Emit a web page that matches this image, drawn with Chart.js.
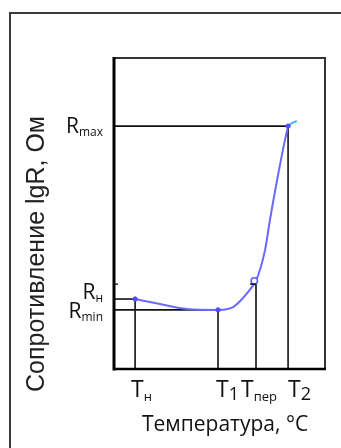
<!DOCTYPE html>
<html>
<head>
<meta charset="utf-8">
<script src="https://cdn.jsdelivr.net/npm/chart.js@4/dist/chart.umd.min.js"></script>
<style>
  html, body { margin: 0; padding: 0; background: #fff; }
  #wrap { position: relative; width: 341px; height: 448px; }
</style>
</head>
<body>
<div id="wrap"><canvas id="c" width="341" height="448"></canvas></div>
<script>
// Temperature (relative units, 0..100) and lgR (relative units, 0..100) along the curve
const curveT = [10, 21.8, 34.6, 49.3, 56.4, 61.1, 65.4, 67.3, 71.6, 73.9, 78.2, 81.0, 82.5];
const curveR = [22.5, 20.9, 19.3, 19.0, 19.9, 22.8, 26.4, 28.3, 38.3, 47.9, 64.0, 73.6, 78.1];
// short tail past T2
const tailT = [82.5, 84.4, 86.7];
const tailR = [78.1, 79.1, 79.7];

// characteristic temperatures and resistances
const tMain = ['T', 'T', 'T', 'T'];
const tSub = ['н', '1', 'пер', '2'];
const tValues = [10, 49.3, 67.3, 82.5];
const rAtT = [22.5, 19.0, 28.3, 78.1];

const rMain = ['R', 'R', 'R'];
const rSub = ['max', 'н', 'min'];
const rValues = [78.1, 22.5, 19.0];

const xTitle = 'Температура, °С';
const yTitle = 'Сопротивление lgR, Ом';

const pts = (xs, ys) => xs.map((x, i) => ({ x, y: ys[i] }));

// guide lines from the axes to the marked points
const guides = [
  [{ x: 0, y: rValues[0] }, { x: tValues[3], y: rValues[0] }],
  [{ x: tValues[3], y: 0 }, { x: tValues[3], y: rAtT[3] }],
  [{ x: 0, y: rValues[2] }, { x: tValues[1], y: rValues[2] }],
  [{ x: tValues[1], y: 0 }, { x: tValues[1], y: rAtT[1] }],
  [{ x: tValues[2], y: 0 }, { x: tValues[2], y: rAtT[2] }],
  [{ x: tValues[0], y: 0 }, { x: tValues[0], y: rAtT[0] }],
  [{ x: 0, y: rValues[1] }, { x: tValues[0], y: rValues[1] }],
];

const datasets = guides.map(g => ({
  type: 'line', data: g, borderColor: '#111', borderWidth: 1.6,
  pointRadius: 0, tension: 0, order: 5
}));
datasets.push({
  type: 'line', data: pts(curveT, curveR), borderColor: '#6a6aff', borderWidth: 2,
  pointRadius: 0, tension: 0.4, cubicInterpolationMode: 'monotone', order: 2
});
datasets.push({
  type: 'line', data: pts(tailT, tailR), borderColor: '#3fb4ee', borderWidth: 2,
  pointRadius: 0, tension: 0.4, order: 1
});
// markers on the curve
datasets.push({
  type: 'scatter', data: pts([tValues[0], tValues[1], tValues[3]], [rAtT[0], rAtT[1], rAtT[3]]),
  backgroundColor: '#5050ff', borderColor: '#5050ff', pointRadius: 2.2, order: 0
});
datasets.push({
  type: 'scatter', data: pts([tValues[2] - 0.8], [rAtT[2]]),
  backgroundColor: '#ffffff', borderColor: '#5a5aff', borderWidth: 1.5, pointRadius: 3.2, order: 0
});

function drawSubLabel(ctx, main, sub, x, y, align, mainFont, subFont, subDy) {
  ctx.font = mainFont;
  const wm = ctx.measureText(main).width;
  ctx.font = subFont;
  const ws = ctx.measureText(sub).width;
  let left = x;
  if (align === 'right') left = x - wm - ws;
  ctx.textAlign = 'left';
  ctx.textBaseline = 'alphabetic';
  ctx.font = mainFont;
  ctx.fillText(main, left, y);
  ctx.font = subFont;
  ctx.fillText(sub, left + wm, y + subDy);
}

const frame = {
  id: 'frame',
  beforeDraw(chart) {
    const ctx = chart.ctx;
    ctx.save();
    ctx.fillStyle = '#fff';
    ctx.fillRect(0, 0, chart.width, chart.height);
    ctx.strokeStyle = '#3a3a3a';
    ctx.lineWidth = 2;
    ctx.strokeRect(10, 13, chart.width + 20, chart.height + 20);
    ctx.restore();
  },
  afterDatasetsDraw(chart) {
    const ctx = chart.ctx;
    const a = chart.chartArea;
    const xs = chart.scales.x, ys = chart.scales.y;
    ctx.save();
    // plot box
    ctx.strokeStyle = '#333';
    ctx.lineWidth = 2;
    ctx.beginPath();
    ctx.moveTo(a.left, a.top); ctx.lineTo(a.right, a.top); ctx.lineTo(a.right, a.bottom);
    ctx.stroke();
    ctx.strokeStyle = '#000';
    ctx.lineWidth = 3;
    ctx.beginPath();
    ctx.moveTo(a.left, a.top - 1); ctx.lineTo(a.left, a.bottom + 1.5);
    ctx.stroke();
    ctx.lineWidth = 2.5;
    ctx.beginPath();
    ctx.moveTo(a.left, a.bottom); ctx.lineTo(a.right + 1, a.bottom);
    ctx.stroke();
    // small ticks
    ctx.lineWidth = 1.3;
    const yT = ys.getPixelForValue(rAtT[2] - 1);
    ctx.beginPath();
    ctx.moveTo(a.left, yT); ctx.lineTo(a.left + 4, yT);
    ctx.moveTo(xs.getPixelForValue(tValues[2]) - 6, yT); ctx.lineTo(xs.getPixelForValue(tValues[2]), yT);
    ctx.stroke();

    ctx.fillStyle = '#111';
    // x labels
    const tShift = [-4, -2, -15, 0];
    tValues.forEach((v, i) => {
      const px = xs.getPixelForValue(v) + tShift[i];
      const digit = (tSub[i] === '1' || tSub[i] === '2');
      drawSubLabel(ctx, tMain[i], tSub[i], px, a.bottom + 28, 'left',
        '23px "Open Sans"', digit ? '18px "Open Sans"' : '13px "Open Sans"', digit ? 3 : 4);
    });
    // y labels
    const rDy = [7, 0, 8];
    rValues.forEach((v, i) => {
      const py = ys.getPixelForValue(v) + rDy[i];
      drawSubLabel(ctx, rMain[i], rSub[i], a.left - 11, py, 'right',
        '21px "Open Sans"', '12px "Open Sans"', 3);
    });
    // axis titles
    ctx.font = '21px "Open Sans"';
    ctx.textAlign = 'left';
    ctx.textBaseline = 'alphabetic';
    ctx.fillText(xTitle, 142, a.bottom + 62);
    ctx.translate(44, 254);
    ctx.rotate(-Math.PI / 2);
    ctx.textAlign = 'center';
    ctx.font = '25px "Liberation Sans"';
    ctx.fillStyle = '#222';
    ctx.fillText(yTitle, 0, 0);
    ctx.restore();
  }
};

new Chart(document.getElementById('c'), {
  type: 'line',
  data: { datasets },
  options: {
    responsive: false,
    animation: false,
    layout: { padding: { left: 114, top: 58, right: 16, bottom: 79 } },
    plugins: { legend: { display: false }, tooltip: { enabled: false } },
    scales: {
      x: { type: 'linear', min: 0, max: 100, display: false },
      y: { type: 'linear', min: 0, max: 100, display: false }
    }
  },
  plugins: [frame]
});
</script>
</body>
</html>
